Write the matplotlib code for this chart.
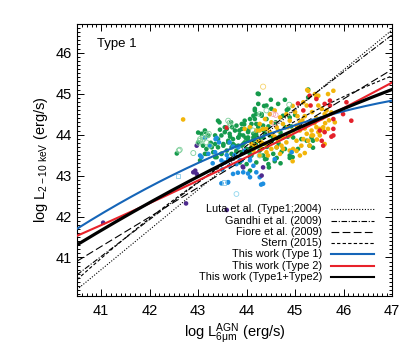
import numpy as np
import matplotlib
matplotlib.use("Agg")
import matplotlib.pyplot as plt
from matplotlib.ticker import MultipleLocator

plt.rcParams['font.family'] = ['Liberation Sans', 'DejaVu Sans']
plt.rcParams['mathtext.fontset'] = 'custom'
plt.rcParams['mathtext.rm'] = 'Liberation Sans'
plt.rcParams['mathtext.it'] = 'Liberation Sans:italic'

# ---------------- data ----------------
green_x = [44.23, 43.41, 43.44, 43.00, 43.14, 43.26, 42.56, 43.79, 43.85, 43.90, 43.96, 44.07, 44.14, 44.20,
           44.17, 44.24, 44.07, 44.03, 43.93, 43.83, 43.72, 43.65, 43.55, 43.48, 43.41, 43.35, 43.28, 43.41,
           43.52, 43.62, 43.72, 43.83, 43.93, 44.03, 44.14, 44.20, 44.24, 43.59, 43.48, 43.38, 43.69, 43.79,
           43.90, 44.00, 44.10, 44.19, 44.79, 44.41, 45.27, 44.31, 44.17, 44.10, 44.51, 44.65, 44.75, 44.86,
           44.55, 44.34, 44.20, 44.96, 44.55, 44.62, 44.89, 44.79, 45.34, 45.37, 45.06, 44.89, 45.13, 45.37,
           44.62, 45.27, 45.24, 45.30, 44.89, 44.95, 43.10, 43.17, 43.69, 43.79, 43.90, 44.00, 44.10, 44.17,
           44.27, 44.07, 44.34, 44.41, 44.20, 44.00, 43.86, 43.68, 43.70, 43.59, 43.76, 43.90, 44.03, 44.20,
           44.31, 44.41, 44.34, 44.14, 44.03, 43.83, 43.62, 43.35, 43.21, 43.14, 43.07, 43.00, 43.17, 43.31,
           43.52, 43.76, 43.96, 44.17, 44.38, 44.48, 43.35, 43.48, 43.14, 43.04, 44.17, 44.25,
           44.45, 44.60, 44.70, 44.35, 44.52, 44.68, 44.80, 44.42, 44.30, 44.58, 44.72, 44.45, 44.38, 44.66,
           44.50, 44.83, 45.00, 44.92, 44.36, 44.26, 44.12, 43.98, 43.86, 43.55, 43.45, 43.66, 43.95, 44.06,
           44.46, 44.70, 44.85]
green_y = [45.00, 44.34, 44.30, 44.05, 44.07, 43.80, 43.54, 44.22, 44.10, 44.26, 44.34, 44.38, 44.46, 44.50,
           44.59, 44.75, 44.18, 44.06, 43.98, 43.93, 43.89, 44.02, 44.06, 43.98, 43.89, 43.77, 43.69, 43.69,
           43.77, 43.81, 43.77, 43.73, 43.77, 43.85, 43.93, 44.06, 44.18, 43.61, 43.53, 43.45, 43.53, 43.61,
           43.57, 43.65, 43.69, 43.77, 44.85, 44.71, 44.91, 44.50, 44.38, 44.26, 44.63, 44.75, 44.46, 44.63,
           43.93, 43.93, 43.98, 43.93, 43.53, 43.43, 43.43, 43.65, 43.93, 43.68, 43.65, 44.42, 43.89, 43.85,
           43.69, 45.10, 43.85, 43.73, 43.49, 43.45, 43.73, 43.53, 43.69, 43.57, 43.73, 43.61, 43.49, 43.73,
           43.61, 43.12, 43.49, 43.41, 43.32, 43.28, 43.32, 44.30, 44.18, 44.14, 44.10, 44.14, 44.10, 44.26,
           44.46, 44.38, 44.22, 44.02, 43.93, 43.93, 43.85, 43.98, 43.98, 44.10, 44.02, 43.81, 43.65, 43.57,
           43.73, 43.73, 43.81, 43.89, 44.02, 43.98, 43.45, 43.53, 43.53, 43.37, 44.63, 44.99,
           44.20, 44.30, 44.05, 44.10, 43.85, 43.95, 44.18, 43.70, 43.80, 43.35, 43.58, 43.28, 43.40, 43.78,
           44.85, 44.60, 44.48, 44.20, 44.70, 43.88, 43.85, 43.92, 44.00, 44.18, 44.12, 43.95, 44.25, 43.55,
           43.20, 43.30, 43.95]

yellow_x = [42.69, 45.27, 45.41, 45.44, 45.48, 45.17, 45.24, 45.48, 45.55, 45.65, 45.61, 45.75, 45.82, 45.30,
            45.44, 45.48, 45.34, 45.24, 45.37, 45.17, 45.27, 45.10, 45.03, 45.10, 44.96, 44.89, 45.03, 45.13,
            44.82, 44.72, 44.75, 44.65, 44.62, 44.51, 44.48, 44.38, 44.31, 44.24, 44.17, 44.14, 44.27, 44.44,
            44.69, 44.89, 45.10, 44.48, 44.58, 44.69, 44.82, 44.89, 44.75, 44.62, 44.51, 44.38, 44.27, 44.34,
            44.20, 44.48, 44.65, 44.75, 44.96, 45.34, 45.51, 45.58, 45.68, 45.51, 45.79, 45.68, 45.25, 45.61,
            45.58, 45.03, 44.41, 45.44, 45.20, 45.00, 44.95, 45.20, 43.96, 44.07, 44.27, 44.41, 44.51, 44.10,
            44.31, 45.35, 45.55, 45.62, 45.40, 45.15, 45.05, 45.30, 44.95, 45.70, 45.20, 44.58, 44.85, 45.45]
yellow_y = [44.37, 45.07, 44.99, 44.91, 44.95, 44.79, 44.71, 44.71, 44.63, 44.59, 44.50, 44.54, 44.30, 43.73,
            44.18, 44.06, 44.10, 44.02, 43.98, 43.89, 43.85, 44.10, 44.22, 44.30, 44.10, 43.98, 43.85, 43.73,
            43.81, 43.73, 43.93, 43.85, 43.69, 43.65, 43.81, 43.77, 43.65, 43.85, 43.73, 43.61, 43.49, 43.49,
            43.53, 43.61, 43.49, 44.50, 44.59, 44.42, 44.50, 44.34, 44.26, 44.18, 44.30, 44.38, 44.26, 44.14,
            44.10, 44.06, 44.10, 43.65, 43.65, 43.98, 44.14, 44.18, 44.14, 43.98, 45.07, 44.99, 45.09, 43.77,
            44.10, 43.60, 43.57, 44.40, 44.45, 44.55, 43.35, 43.55, 44.14, 44.18, 44.10, 44.14, 44.02, 43.77,
            43.81, 44.55, 44.40, 44.28, 44.28, 44.35, 44.45, 44.30, 44.70, 44.35, 44.15, 43.95, 44.18, 43.88]

cyan_x = [43.38, 43.04, 43.36, 43.43, 43.65, 43.72, 43.83, 43.21, 43.59, 43.96, 44.07, 43.86, 43.55, 43.07,
          43.24, 43.35, 43.48, 43.62, 43.65, 43.79, 43.90, 44.07, 44.14, 43.93, 43.72, 44.07, 44.20, 44.27,
          43.62, 43.48, 44.34, 43.14, 44.58, 44.93, 44.30, 43.61, 43.82, 44.03, 43.30, 43.50, 43.75]
cyan_y = [43.92, 43.49, 43.89, 43.81, 43.81, 43.71, 43.69, 43.53, 43.50, 43.61, 43.45, 43.37, 43.32, 43.45,
          43.73, 43.57, 43.37, 43.41, 43.24, 43.28, 43.37, 43.37, 43.24, 43.08, 43.04, 42.96, 43.08, 42.96,
          42.84, 42.81, 42.80, 43.92, 43.40, 43.57, 42.78, 42.83, 43.07, 43.05, 43.30, 43.15, 43.50]

purple_x = [41.04, 42.75, 42.97, 42.90, 42.97, 42.94, 43.93, 44.34, 43.59, 44.31, 43.92]
purple_y = [41.85, 42.32, 43.73, 43.08, 43.04, 43.12, 43.20, 43.20, 42.16, 43.00, 43.22]

red_x = [43.59, 45.06, 45.32, 45.17, 45.61, 45.72, 45.79, 45.79, 45.51, 45.61, 45.75, 46.16, 46.06, 45.44,
         45.72, 45.99, 45.55, 45.58, 45.79, 45.30]
red_y = [44.17, 44.76, 44.71, 44.59, 44.75, 44.83, 44.38, 44.14, 44.10, 44.06, 43.95, 44.34, 44.79, 44.87,
         44.71, 44.50, 43.85, 43.73, 43.98, 44.95]

open_green_x = [43.22, 43.20, 43.10, 43.04, 43.01, 42.60, 43.65, 43.67, 43.16, 44.13, 44.88, 44.27, 43.04,
                43.10, 43.17, 43.24, 43.62, 44.27, 44.41, 42.90, 42.62]
open_green_y = [44.02, 43.98, 43.88, 43.85, 43.80, 43.61, 44.29, 44.22, 44.02, 44.10, 44.73, 43.49, 43.89,
                43.93, 43.81, 43.73, 44.34, 44.50, 44.59, 43.55, 43.63]

open_square_x = [42.58, 43.53]
open_square_y = [42.98, 42.83]
open_cyan_x = [43.79]
open_cyan_y = [42.55]
open_pink_x = [44.55, 44.60, 44.58]
open_pink_y = [44.50, 44.48, 44.26]
open_yellow_x = [44.34]
open_yellow_y = [45.17]

# relations: value at log L6 = 44, slope, curvature (about 44)
lutz_coef = [43.63, 0.975, 0.0]
gandhi_coef = [43.73, 0.901, 0.0]
fiore_coef = [43.43, 0.72, 0.0]
stern_coef = [43.63, 0.742, -0.047]
type1_coef = [43.81, 0.461, -0.0404]
type2_coef = [43.45, 0.58, 0.0089]
all_coef = [43.57, 0.573, -0.0209]

legend_labels = ['Luta et al. (Type1;2004)', 'Gandhi et al. (2009)', 'Fiore et al. (2009)',
                 'Stern (2015)', 'This work (Type 1)', 'This work (Type 2)',
                 'This work (Type1+Type2)']

# ---------------- figure ----------------
fig = plt.figure(figsize=(4.15, 3.46), dpi=100)
ax = fig.add_axes([0.1855, 0.1445, 0.7591, 0.7861])

ms = 11
ax.scatter(green_x, green_y, s=ms, c='#159a4c', edgecolors='none', zorder=2)
ax.scatter(yellow_x, yellow_y, s=ms, c='#f2b50a', edgecolors='none', zorder=2)
ax.scatter(cyan_x, cyan_y, s=ms, c='#1c8ee0', edgecolors='none', zorder=2)
ax.scatter(purple_x, purple_y, s=ms, c='#4e2a8e', edgecolors='none', zorder=2)
ax.scatter(red_x, red_y, s=ms, c='#e3202a', edgecolors='none', zorder=2)
ax.scatter(open_green_x, open_green_y, s=13, facecolors='none', edgecolors='#7dcf9a', linewidths=0.6, zorder=2)
ax.scatter(open_square_x, open_square_y, s=9, marker='s', facecolors='none', edgecolors='#8ccbe8', linewidths=0.6, zorder=2)
ax.scatter(open_cyan_x, open_cyan_y, s=12, facecolors='none', edgecolors='#8fd6ee', linewidths=0.6, zorder=2)
ax.scatter(open_pink_x, open_pink_y, s=12, facecolors='none', edgecolors='#f4a3b3', linewidths=0.6, zorder=2)
ax.scatter(open_yellow_x, open_yellow_y, s=14, facecolors='none', edgecolors='#f6d36a', linewidths=0.6, zorder=2)

xx = np.linspace(40.5, 47.0, 300)

def rel(c):
    d = xx - 44.0
    return c[0] + c[1] * d + c[2] * d * d

styles = [
    (lutz_coef, dict(color='black', lw=0.8, ls=(0, (1, 1.5)))),
    (gandhi_coef, dict(color='black', lw=0.8, ls=(0, (5, 1.5, 1, 1.5)))),
    (fiore_coef, dict(color='black', lw=0.8, ls=(0, (7, 3)))),
    (stern_coef, dict(color='black', lw=0.8, ls=(0, (3, 2)))),
    (type1_coef, dict(color='#1565b8', lw=1.5, ls='-')),
    (type2_coef, dict(color='#e8222a', lw=1.5, ls='-')),
    (all_coef, dict(color='black', lw=2.3, ls='-')),
]
for coef, st in styles:
    ax.plot(xx, rel(coef), zorder=3, **st)

# legend drawn like the original (right aligned text, sample on right)
row_y = [0.319, 0.277, 0.236, 0.195, 0.153, 0.111, 0.069]
for (coef, st), lab, yy in zip(styles, legend_labels, row_y):
    ax.text(0.777, yy, lab, transform=ax.transAxes, ha='right', va='center', fontsize=7.8, zorder=5)
    st2 = dict(st)
    if st2['lw'] > 2:
        st2['lw'] = 1.5
    ax.plot([0.806, 0.943], [yy, yy], transform=ax.transAxes, zorder=5, **st2)

ax.text(0.063, 0.925, 'Type 1', transform=ax.transAxes, ha='left', va='center', fontsize=9.5)

ax.set_xlim(40.5, 47.0)
ax.set_ylim(40.06, 46.70)
ax.xaxis.set_major_locator(MultipleLocator(1))
ax.xaxis.set_minor_locator(MultipleLocator(0.1))
ax.yaxis.set_major_locator(MultipleLocator(1))
ax.yaxis.set_minor_locator(MultipleLocator(0.1))
ax.tick_params(which='both', direction='in', top=True, right=True, width=0.7)
ax.tick_params(which='major', length=5, labelsize=10.5)
ax.tick_params(which='minor', length=2.5)
ax.tick_params(axis='x', which='major', pad=6)
ax.tick_params(axis='y', which='major', pad=4)
for sp in ax.spines.values():
    sp.set_linewidth(0.8)

ax.set_xlabel(r'log L$^{\rm AGN}_{\rm 6\mu m}$ (erg/s)', fontsize=10.5, labelpad=2)
ax.set_ylabel(r'log L$_{\rm 2-10\ keV}$ (erg/s)', fontsize=10.5, labelpad=4)

fig.savefig('out.png', dpi=100)
